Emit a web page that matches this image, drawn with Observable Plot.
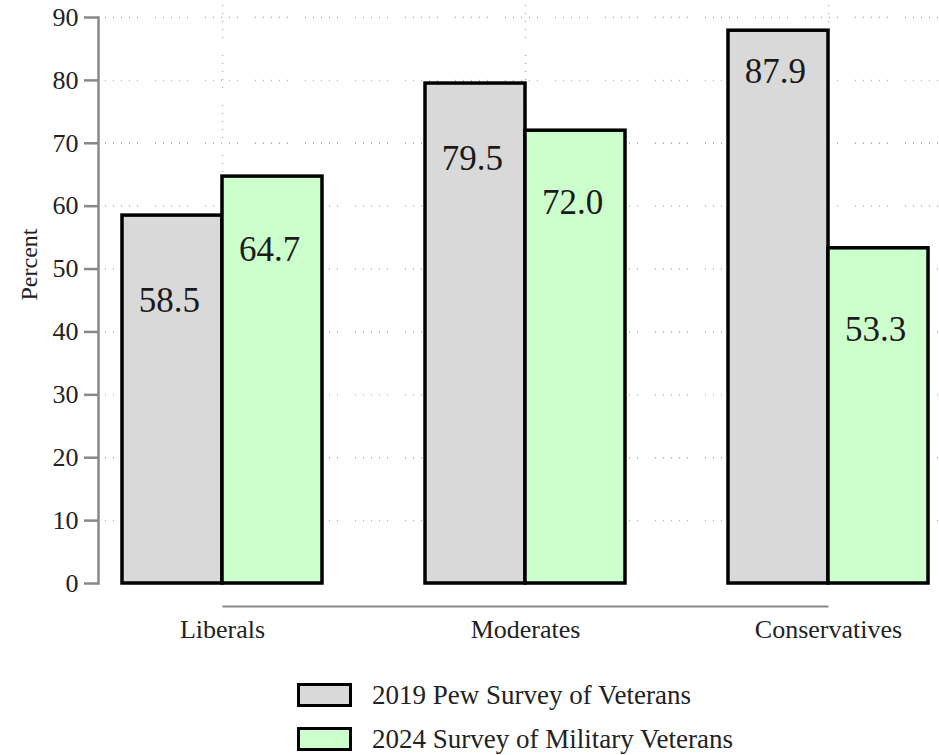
<!DOCTYPE html>
<html>
<head>
<meta charset="utf-8">
<script src="https://cdn.jsdelivr.net/npm/d3@7"></script>
<script src="https://cdn.jsdelivr.net/npm/@observablehq/plot@0.6"></script>
<style>
  html, body { margin: 0; padding: 0; background: #fff; }
  body { width: 939px; height: 755px; overflow: hidden; font-family: "Liberation Serif", serif; color: #222; }
  #legend { margin-top: 13px; padding-left: 297px; }
  .row { display: flex; align-items: center; height: 44px; }
  .swatch { box-sizing: border-box; width: 55px; height: 24px; border: 3.5px solid #000; }
  .lab { margin-left: 20px; font-size: 27px; line-height: 1; color: #222; }
</style>
</head>
<body>
<div id="chart"></div>
<div id="legend"></div>
<script>
// ---- data ----
const categories = ["Liberals", "Moderates", "Conservatives"];
const seriesNames = ["2019 Pew Survey of Veterans", "2024 Survey of Military Veterans"];
const pew2019 = [58.5, 79.5, 87.9];
const vets2024 = [64.7, 72.0, 53.3];
// where each value label sits inside its bar (in percent units)
const labelAt2019 = [44.9, 67.5, 81.3];
const labelAt2024 = [53.0, 60.5, 40.3];
const yTicks = [0, 10, 20, 30, 40, 50, 60, 70, 80, 90];
const seriesColors = ["#d9d9d9", "#ccffcc"];

// ---- layout ----
const W = 939, H = 660, mL = 98, mR = 0, mT = 17, mB = 77;
const padIn = 0.341, padOut = 0.056, align = 0.676;
const band = d3.scaleBand(categories, [mL, W - mR]).paddingInner(padIn).paddingOuter(padOut).align(align);
const half = band.bandwidth() / 2;

const rows = [];
categories.forEach((c, i) => {
  rows.push({category: c, series: seriesNames[0], value: pew2019[i], labelAt: labelAt2019[i]});
  rows.push({category: c, series: seriesNames[1], value: vets2024[i], labelAt: labelAt2024[i]});
});
const s0 = rows.filter(d => d.series === seriesNames[0]);
const s1 = rows.filter(d => d.series === seriesNames[1]);

const dots = "1,7,1,7,1,7,1,7,1,17";

const chart = Plot.plot({
  width: W, height: H,
  marginLeft: mL, marginRight: mR, marginTop: mT, marginBottom: mB,
  style: {fontFamily: "Liberation Serif, serif", fontSize: "26px", color: "#222", background: "#fff"},
  x: {domain: categories, paddingInner: padIn, paddingOuter: padOut, align: align, axis: null},
  y: {domain: [0, 90], axis: null},
  color: {domain: seriesNames, range: seriesColors},
  marks: [
    // dotted gridlines
    Plot.ruleY(yTicks.filter(d => d > 0), {stroke: "#aaa", strokeWidth: 1.4, strokeDasharray: dots, insetLeft: 7}),
    Plot.ruleX(categories, {stroke: "#aaa", strokeWidth: 1.4, strokeDasharray: dots, insetTop: -12}),
    // bars
    Plot.barY(s0, {x: "category", y: "value", fill: "series", stroke: "#000", strokeWidth: 3.5, insetRight: half}),
    Plot.barY(s1, {x: "category", y: "value", fill: "series", stroke: "#000", strokeWidth: 3.5, insetLeft: half}),
    // value labels
    Plot.text(s0, {x: "category", y: "labelAt", text: d => d.value.toFixed(1), dx: -half / 2 - 3, fontSize: 35, fill: "#1a1a1a"}),
    Plot.text(s1, {x: "category", y: "labelAt", text: d => d.value.toFixed(1), dx: half / 2 - 3, fontSize: 35, fill: "#1a1a1a"}),
    // y axis
    Plot.frame({anchor: "left", stroke: "#888", strokeWidth: 2.5}),
    Plot.axisY({ticks: yTicks, tickSize: 14, tickPadding: 6, stroke: "#888", strokeWidth: 2.5, fill: "#222", fontSize: 26, label: null, tickFormat: d3.format("d")}),
    Plot.text(["Percent"], {frameAnchor: "left", rotate: -90, dx: -69, fontSize: 24, fill: "#222"}),
    // x axis
    Plot.link([{a: categories[0], b: categories[categories.length - 1]}], {x1: "a", x2: "b", y1: () => 0, y2: () => 0, dy: 23, stroke: "#888", strokeWidth: 2}),
    Plot.axisX({tickSize: 0, tickPadding: 36, fontSize: 26, fill: "#222", label: null})
  ]
});
document.getElementById("chart").appendChild(chart);

// ---- legend ----
const legend = d3.select("#legend");
seriesNames.forEach((name, i) => {
  const row = legend.append("div").attr("class", "row");
  row.append("div").attr("class", "swatch").style("background", seriesColors[i]);
  row.append("div").attr("class", "lab").text(name);
});
</script>
</body>
</html>
